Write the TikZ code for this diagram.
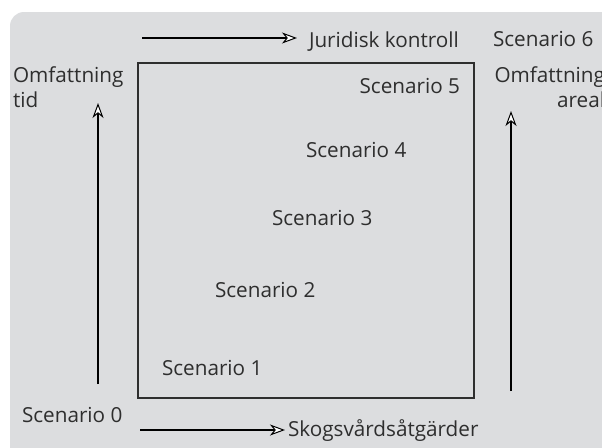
\documentclass[tikz,border=0pt]{standalone}
\usepackage{fontspec}
\setmainfont{Open Sans}
\usetikzlibrary{arrows.meta}
\definecolor{bggray}{HTML}{DCDDDF}
\definecolor{txt}{HTML}{2E2E2E}
\tikzset{
  lbl/.style={inner sep=0pt, outer sep=0pt, text=txt, font=\fontsize{20.7}{25}\selectfont},
  arr/.style={line width=2.8pt, black, -{Stealth[length=15pt, width=11pt, inset=4.5pt, open, fill=white, line width=1pt]}},
  frame/.style={draw=txt, line width=1.5pt}
}
\begin{document}
\begin{tikzpicture}[x=1pt,y=-1pt]
\useasboundingbox (0,0) rectangle (602,447);
\fill[bggray, rounded corners=14pt] (10,12) rectangle (640,480);
% box
\draw[frame] (138,63) rectangle (474,398);
% labels
\node[lbl, anchor=base west] (jur) at (309,47) {Juridisk kontroll};
\node[lbl, anchor=base west] (s6) at (493,46) {Scenario 6};
\node[lbl, anchor=base west, align=left] (oml) at (13,107) {Omfattning\\tid};
\node[lbl, anchor=base east, align=right] (omr) at (605,107) {Omfattning\\areal};
\node[lbl, anchor=base east] (s5) at (460,93) {Scenario 5};
\node[lbl, anchor=base west] (s4) at (306,157) {Scenario 4};
\node[lbl, anchor=base west] (s3) at (272,225) {Scenario 3};
\node[lbl, anchor=base west] (s2) at (215,297) {Scenario 2};
\node[lbl, anchor=base west] (s1) at (162,375) {Scenario 1};
\node[lbl, anchor=base west] (s0) at (22,422) {Scenario 0};
\node[lbl, anchor=base west] (skog) at (288,436) {Skogsvårdsåtgärder};
% arrow end coordinates
\coordinate (tA) at (142,38);
\coordinate (tB) at (297,38);
\coordinate (bA) at (140,430);
\coordinate (bB) at (285,430);
\coordinate (lA) at (98,384);
\coordinate (lB) at (98,103);
\coordinate (rA) at (511,391);
\coordinate (rB) at (511,111);
\draw[arr] (tA) -- (tB);
\draw[arr] (bA) -- (bB);
\draw[arr] (lA) -- (lB);
\draw[arr] (rA) -- (rB);
\end{tikzpicture}
\end{document}
